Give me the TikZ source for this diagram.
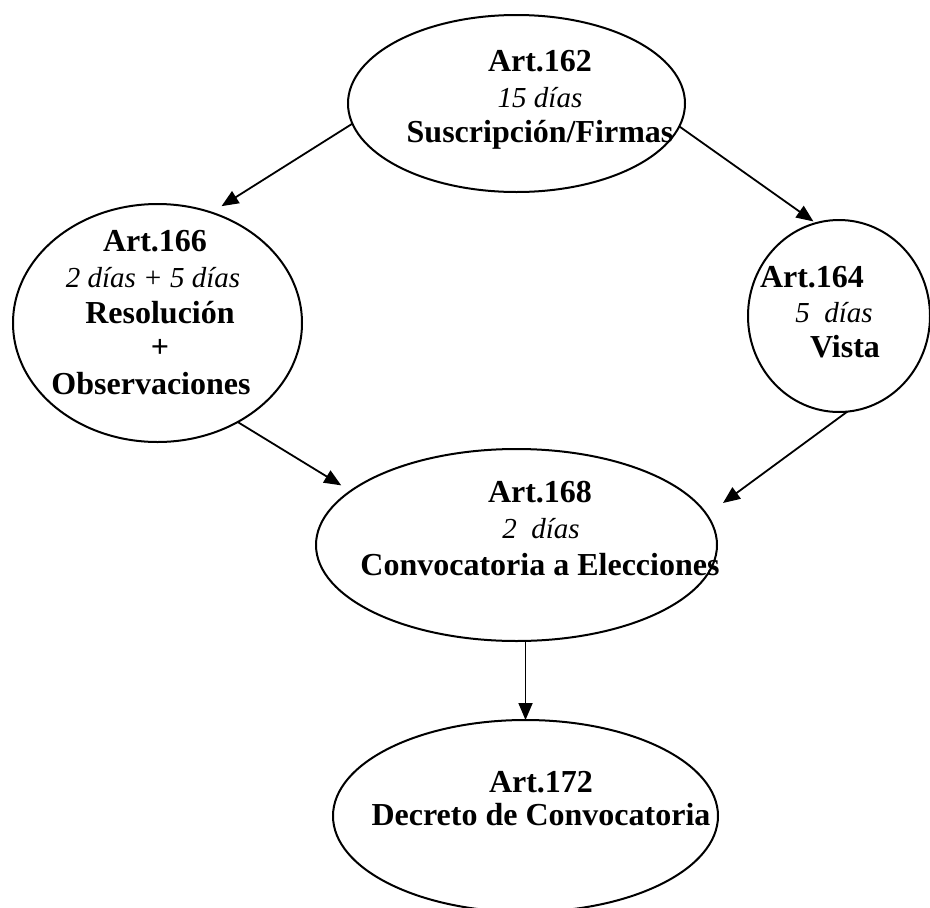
\documentclass[tikz,border=0pt]{standalone}
\usepackage{fontspec}
\setmainfont{Liberation Serif}
\usetikzlibrary{shapes.geometric,arrows.meta}
\begin{document}
\begin{tikzpicture}[x=1pt,y=-1pt,
  oval/.style={draw=black,line width=2pt,ellipse,inner sep=0pt,outer sep=0pt},
  bl/.style={anchor=base,inner sep=0pt,font=\fontsize{32}{35}\selectfont\bfseries},
  il/.style={anchor=base,inner sep=0pt,font=\fontsize{29}{35}\selectfont\itshape},
  arr/.style={line width=1.8pt,-{Triangle[length=17pt,width=14pt]}}]
\useasboundingbox (0,0) rectangle (930,908);
% ellipses
\node[oval,minimum width=337pt,minimum height=177pt] (top) at (516.5,103.5) {};
\node[oval,minimum width=289pt,minimum height=238pt] (left) at (157.5,323) {};
\node[oval,minimum width=182pt,minimum height=192pt] (right) at (839,316) {};
\node[oval,minimum width=401pt,minimum height=192pt] (mid) at (516.5,545) {};
\node[oval,minimum width=385pt,minimum height=192pt] (bot) at (525.5,816) {};
% texts
\node[bl] (t1a) at (540,71) {Art.162};
\node[il] (t1b) at (540,107) {15 días};
\node[bl] (t1c) at (540,142) {Suscripción/Firmas};
\node[bl] (t2a) at (155,251) {Art.166};
\node[il] (t2b) at (153,287) {2 días + 5 días};
\node[bl] (t2c) at (160,323) {Resolución};
\node[bl] (t2d) at (160,357) {+};
\node[bl] (t2e) at (151,394) {Observaciones};
\node[bl] (t3a) at (812,287) {Art.164};
\node[il] (t3b) at (834,322) {5\ \ días};
\node[bl] (t3c) at (845,357) {Vista};
\node[bl] (t4a) at (540,502) {Art.168};
\node[il] (t4b) at (541,538) {2\ \ días};
\node[bl] (t4c) at (540,575) {Convocatoria a Elecciones};
\node[bl] (t5a) at (541,792) {Art.172};
\node[bl] (t5b) at (541,825) {Decreto de Convocatoria};
% connectors
\draw[arr,shorten >=12pt] (top.187) -- (left.64);
\draw[arr,shorten >=3pt] (top.352.5) -- (right.104);
\draw[arr,shorten >=11pt] (left.-51) -- (mid.162.9);
\draw[arr,shorten >=20pt] (right.-85) -- (mid.9.2);
\draw[arr] (bot.north |- mid.south) -- (bot.north);
\end{tikzpicture}
\end{document}
